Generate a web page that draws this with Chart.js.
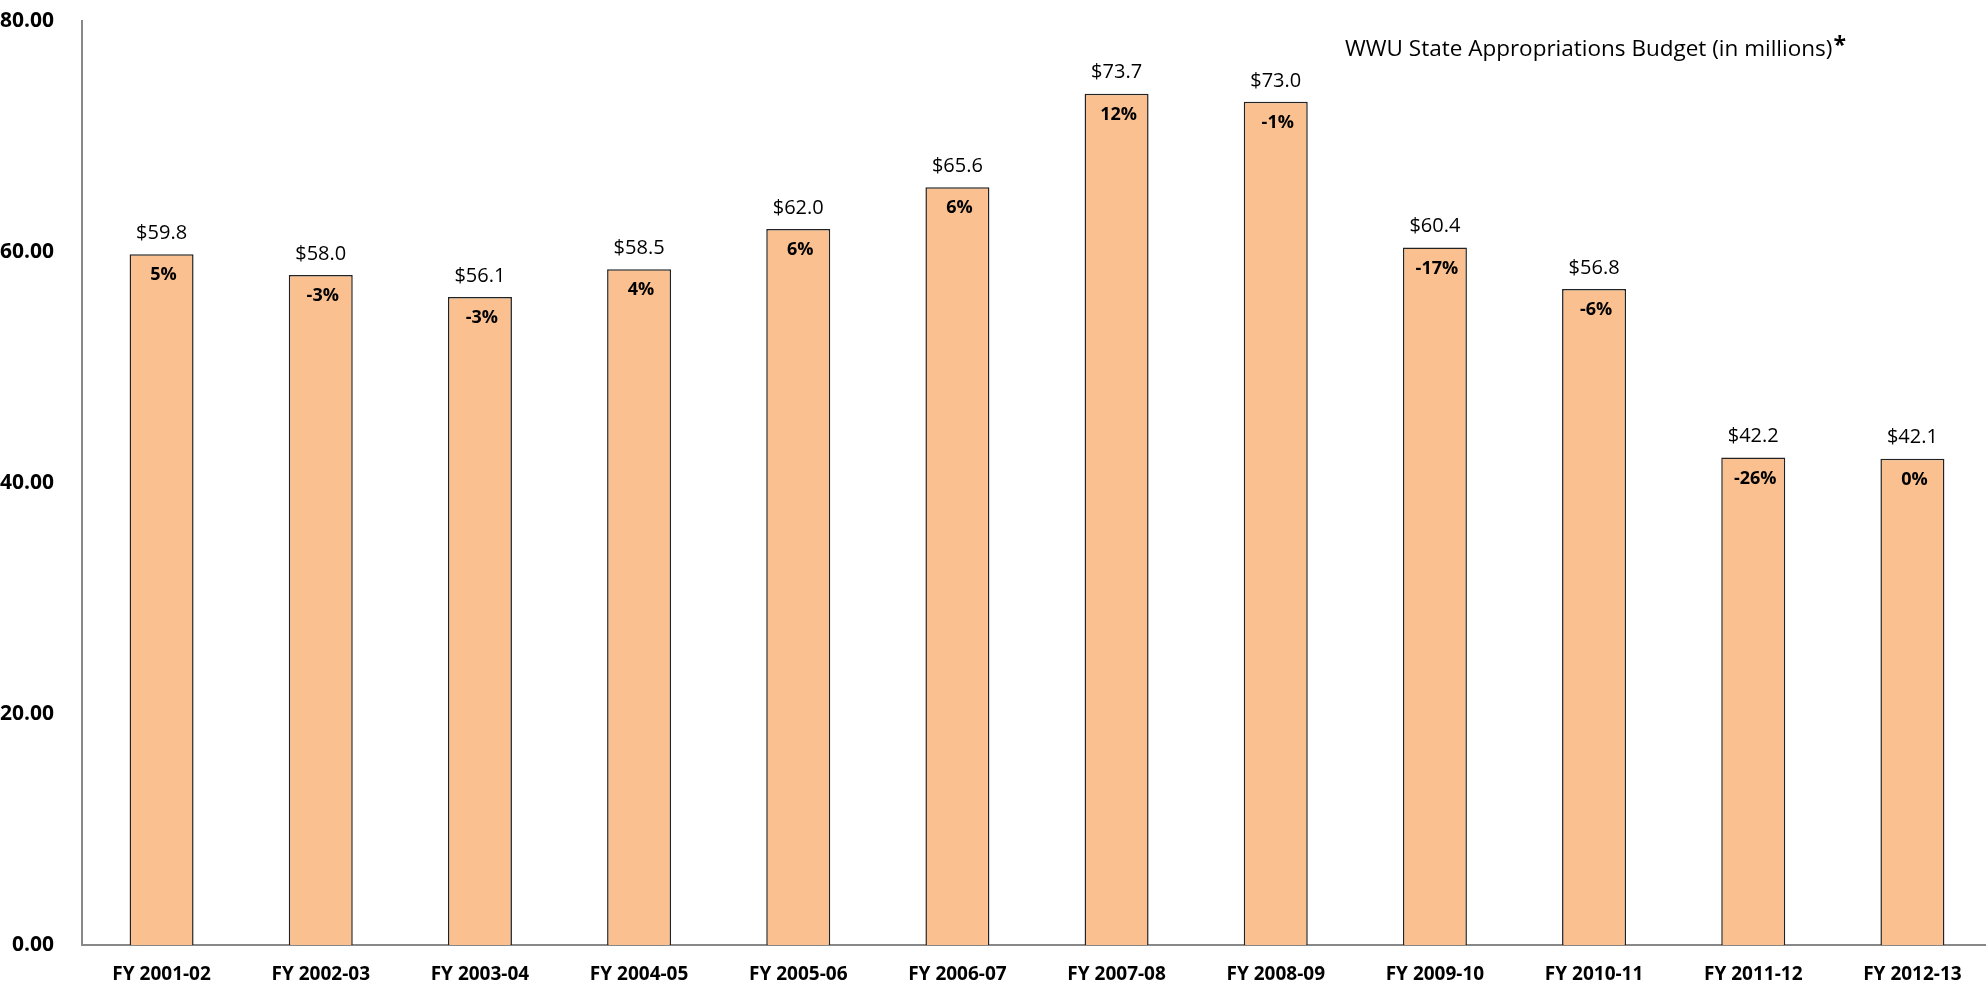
<!DOCTYPE html>
<html lang="en">
<head>
<meta charset="UTF-8"/>
<title>WWU State Appropriations Budget</title>
<script src="https://cdn.jsdelivr.net/npm/chart.js@4.4.2/dist/chart.umd.min.js"></script>
<style>
html,body{margin:0;padding:0;background:#fff;overflow:hidden}
#wrap{width:1992px;height:989px;position:relative}
</style>
</head>
<body>
<div id="wrap"><canvas id="chart"></canvas></div>
<script>
const years=["FY 2001-02","FY 2002-03","FY 2003-04","FY 2004-05","FY 2005-06","FY 2006-07","FY 2007-08","FY 2008-09","FY 2009-10","FY 2010-11","FY 2011-12","FY 2012-13"];
const budget=[59.8,58.0,56.1,58.5,62.0,65.6,73.7,73.0,60.4,56.8,42.2,42.1];
const change=["5%","-3%","-3%","4%","6%","6%","12%","-1%","-17%","-6%","-26%","0%"];
const yTicks=[0,20,40,60,80];
const title="WWU State Appropriations Budget (in millions)";

const FONT="'Open Sans', sans-serif";

// value labels above bars, % change inside, and the title in the upper right
const labels={
  id:"labels",
  afterDatasetsDraw(chart){
    const ctx=chart.ctx, meta=chart.getDatasetMeta(0);
    ctx.save();
    ctx.fillStyle="#000";
    ctx.textAlign="center";
    ctx.textBaseline="middle";
    meta.data.forEach((bar,i)=>{
      ctx.font="20px "+FONT;
      ctx.fillText("$"+budget[i].toFixed(1),bar.x,bar.y-21);
      ctx.font="bold 18px "+FONT;
      ctx.fillText(change[i],bar.x+2,bar.y+21);
    });
    ctx.font="22.5px "+FONT;
    const w=ctx.measureText(title).width;
    const x0=1345, cy=50;
    ctx.textAlign="left";
    ctx.fillText(title,x0,cy);
    ctx.font="bold 23px "+FONT;
    ctx.fillText("*",x0+w+1,cy-4);
    ctx.restore();
  }
};

new Chart(document.getElementById("chart"),{
  type:"bar",
  data:{labels:years,datasets:[{
    data:budget,
    backgroundColor:"#FAC090",
    borderColor:"#222",
    borderWidth:1.5,
    categoryPercentage:1,
    barPercentage:0.402
  }]},
  options:{
    responsive:true,
    maintainAspectRatio:false,
    animation:false,
    layout:{padding:{top:21,right:0,left:0,bottom:0}},
    plugins:{legend:{display:false},tooltip:{enabled:false}},
    scales:{
      x:{
        grid:{display:false},
        border:{display:true,color:"#888",width:2},
        ticks:{color:"#000",font:{family:FONT,size:19,weight:"bold"},padding:10,maxRotation:0,autoSkip:false},
        afterFit(s){s.height=44;}
      },
      y:{
        min:0,max:80,
        afterBuildTicks(s){s.ticks=yTicks.map(v=>({value:v}));},
        grid:{display:false},
        border:{display:true,color:"#888",width:2},
        ticks:{color:"#000",font:{family:FONT,size:21,weight:"bold"},padding:20,callback:v=>v.toFixed(2)},
        afterFit(s){s.width=82;s.paddingTop=0;s.paddingBottom=0;}
      }
    }
  },
  plugins:[labels]
});
</script>
</body>
</html>
